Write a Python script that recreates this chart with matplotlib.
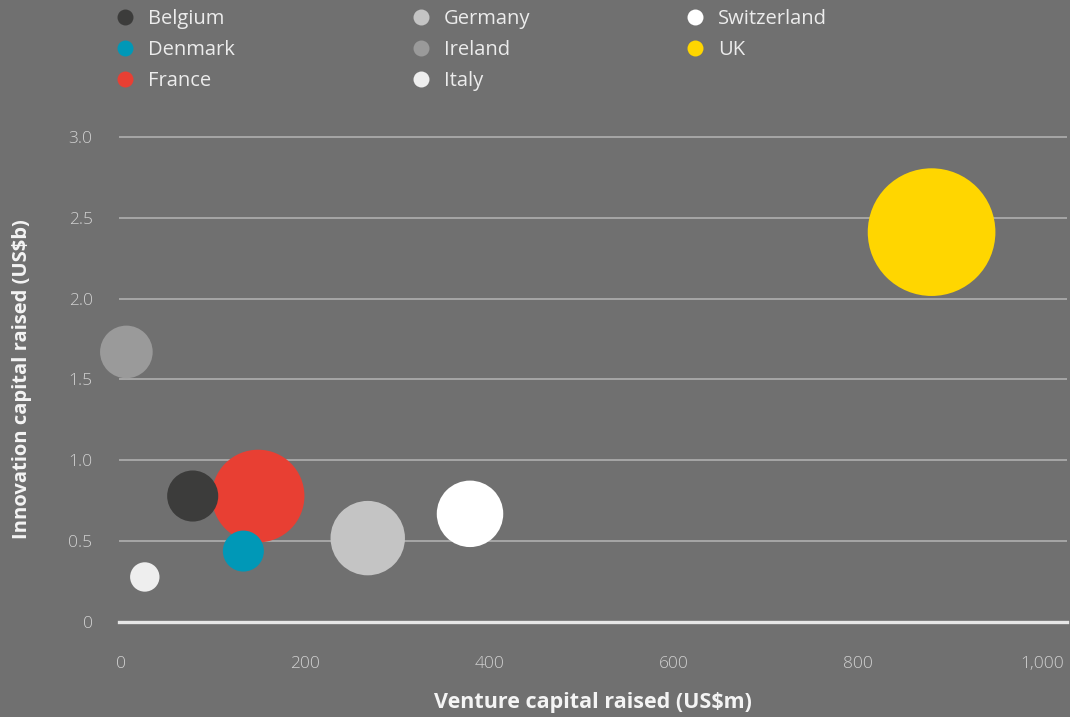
import matplotlib.pyplot as plt
from matplotlib.lines import Line2D
from matplotlib.ticker import FuncFormatter

# Bubble chart: venture capital vs innovation capital raised, by country
countries = ['Belgium', 'Denmark', 'France', 'Germany', 'Ireland', 'Italy', 'Switzerland', 'UK']
vc_raised = [78, 133, 149, 268, 6, 26, 379, 880]           # US$m
innovation_raised = [0.78, 0.44, 0.78, 0.52, 1.67, 0.28, 0.67, 2.41]  # US$b
bubble_values = [16.3, 10.5, 53.6, 34.6, 17.3, 5.4, 27.6, 101.8]
colors = ['#3c3c3b', '#0098b7', '#e83f33', '#c4c4c4', '#9a9a9a', '#eeeeee', '#ffffff', '#ffd600']

x_ticks = [0, 200, 400, 600, 800, 1000]
y_ticks = [0, 0.5, 1.0, 1.5, 2.0, 2.5, 3.0]

BG = '#707070'
FONT = 'Open Sans'

fig = plt.figure(figsize=(10.7, 7.17), dpi=100, facecolor=BG)
ax = fig.add_axes([119 / 1070, 1 - 622.3 / 717, (1067 - 119) / 1070, (622.3 - 135) / 717])
ax.set_facecolor(BG)

# biggest bubbles first so the small ones sit on top
order = sorted(range(len(countries)), key=lambda i: -bubble_values[i])
for i in order:
    ax.scatter(vc_raised[i], innovation_raised[i], s=bubble_values[i] * 83,
               color=colors[i], edgecolors='none', zorder=3, clip_on=False,
               label=countries[i])

ax.set_xlim(-2, 1027)
ax.set_ylim(0, 3.01)
ax.set_xticks(x_ticks)
ax.set_yticks(y_ticks)
ax.xaxis.set_major_formatter(FuncFormatter(lambda v, p: f'{v:,.0f}'))
ax.yaxis.set_major_formatter(FuncFormatter(lambda v, p: '0' if v == 0 else f'{v:.1f}'))

ax.grid(axis='y', color='#b4b4b4', linewidth=1.1, zorder=1)
ax.axhline(0, color='#e6e6e6', linewidth=2.4, zorder=2, clip_on=False)
for s in ax.spines.values():
    s.set_visible(False)
ax.tick_params(length=0, colors='#d0d0d0', labelsize=12.5)
ax.tick_params(axis='x', pad=24)
ax.tick_params(axis='y', pad=19)
for lbl in ax.get_xticklabels() + ax.get_yticklabels():
    lbl.set_fontfamily(FONT)
    lbl.set_fontweight('light')

ax.set_xlabel('Venture capital raised (US$m)', fontsize=15.5, fontweight='bold',
              color='#f4f4f4', family=FONT, labelpad=15)
ax.set_ylabel('Innovation capital raised (US$b)', fontsize=14.5, fontweight='bold',
              color='#f4f4f4', family=FONT, labelpad=26)

# Legend drawn as three columns of marker + text
col_x = [125, 421, 695]
row_y = [17, 48, 79]
for i, (c, col) in enumerate(zip(countries, colors)):
    cx = col_x[i // 3] / 1070
    cy = 1 - row_y[i % 3] / 717
    fig.add_artist(Line2D([cx], [cy], transform=fig.transFigure, marker='o',
                          markersize=11.5, color=col, markeredgewidth=0, linestyle='none'))
    fig.text(cx + 23 / 1070, cy - 2 / 717, c, fontsize=14.5, color='#ececec', family=FONT,
             va='center', ha='left')

fig.savefig('out.png', dpi=100, facecolor=BG)
